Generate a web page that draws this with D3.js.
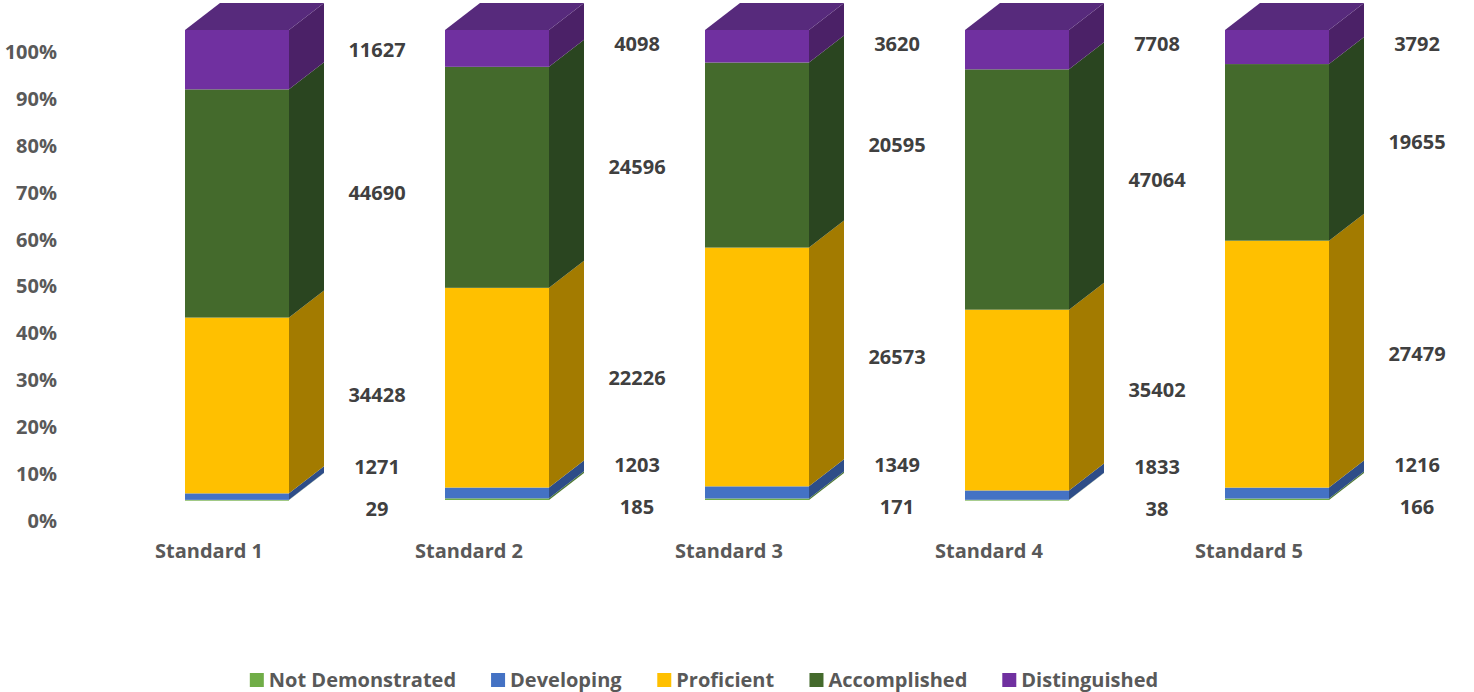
<!DOCTYPE html>
<html>
<head>
<meta charset="utf-8">
<script src="https://cdn.jsdelivr.net/npm/d3@7"></script>
<style>
  html, body { margin: 0; padding: 0; background: #ffffff; }
  svg { display: block; font-family: "Open Sans", Lato, sans-serif; font-weight: 700; }
</style>
</head>
<body>
<svg id="chart" width="1474" height="692"></svg>
<script>
// Categories and series (raw counts, shown as 100% stacked 3D columns)
const categories = ["Standard 1", "Standard 2", "Standard 3", "Standard 4", "Standard 5"];
const seriesNames = ["Not Demonstrated", "Developing", "Proficient", "Accomplished", "Distinguished"];
const notDemonstrated = [29, 185, 171, 38, 166];
const developing      = [1271, 1203, 1349, 1833, 1216];
const proficient      = [34428, 22226, 26573, 35402, 27479];
const accomplished    = [44690, 24596, 20595, 47064, 19655];
const distinguished   = [11627, 4098, 3620, 7708, 3792];
const tickValues = [0, 0.1, 0.2, 0.3, 0.4, 0.5, 0.6, 0.7, 0.8, 0.9, 1.0];

// Face colours per series: front, side, top
const frontColors = ["#70AD47", "#4472C4", "#FFC000", "#446A2C", "#7030A0"];
const sideColors  = ["#4E7A32", "#2E4D88", "#A37B00", "#2A4520", "#4B2167"];
const topColors   = ["#5E9340", "#3A5FA6", "#CC9A00", "#37592A", "#572A7C"];

const fontSize = "20px";
const svg = d3.select("#chart");

const seriesValues = [notDemonstrated, developing, proficient, accomplished, distinguished];
const rows = categories.map((c, i) => {
  const r = { category: c };
  seriesNames.forEach((s, j) => { r[s] = seriesValues[j][i]; });
  return r;
});
const stacked = d3.stack().keys(seriesNames).offset(d3.stackOffsetExpand)(rows);

// Depth projection of the 3D boxes
const depthX = 35, depthY = -27;

const x = d3.scaleBand().domain(categories).range([120, 1420]).padding(0);
const barOffset = x.step() * 0.25;
const barWidth = x.step() * 0.4;

// Front face scale and value axis scale (axis drawn against the floor line)
const y = d3.scaleLinear().domain([0, 1]).range([500, 30]);
const yAxisScale = d3.scaleLinear().domain([0, 1]).range([521, 52]);

// Value axis
const yAxis = d3.axisLeft(yAxisScale)
  .tickValues(tickValues)
  .tickFormat(d3.format(".0%"))
  .tickSize(0)
  .tickPadding(0);
const gAxis = svg.append("g").attr("transform", "translate(57,0)").call(yAxis);
gAxis.select(".domain").remove();
gAxis.selectAll("text")
  .attr("fill", "#595959")
  .style("font-size", fontSize)
  .style("font-family", "'Open Sans', Lato, sans-serif")
  .style("font-weight", 700);

// Bars
const bars = svg.append("g");
categories.forEach((cat, i) => {
  const x0 = x(cat) + barOffset;
  const x1 = x0 + barWidth;
  const g = bars.append("g");
  stacked.forEach((layer, j) => {
    const yb = y(layer[i][0]);
    const yt = y(layer[i][1]);
    // front face
    g.append("rect")
      .attr("x", x0).attr("y", yt)
      .attr("width", barWidth).attr("height", Math.max(0.8, yb - yt))
      .attr("fill", frontColors[j]);
    // side face
    g.append("path")
      .attr("d", `M${x1},${yb}L${x1},${yt}L${x1 + depthX},${yt + depthY}L${x1 + depthX},${yb + depthY}Z`)
      .attr("fill", sideColors[j]);
  });
  // top face of the column
  const yTop = y(1);
  g.append("path")
    .attr("d", `M${x0},${yTop}L${x1},${yTop}L${x1 + depthX},${yTop + depthY}L${x0 + depthX},${yTop + depthY}Z`)
    .attr("fill", topColors[4]);

  // value labels beside each segment, kept apart from one another
  const labels = stacked.map((layer, j) => ({
    text: seriesValues[j][i],
    pos: (y(layer[i][0]) + y(layer[i][1])) / 2 - 10
  }));
  const minGap = 42;
  for (let iter = 0; iter < 60; iter++) {
    for (let k = 0; k < labels.length - 1; k++) {
      const lo = labels[k], hi = labels[k + 1];
      const gap = lo.pos - hi.pos;
      if (gap < minGap) {
        const push = (minGap - gap) / 2;
        lo.pos += push; hi.pos -= push;
      }
    }
  }
  // keep the top label clear of the chart's top edge
  labels[labels.length - 1].pos = Math.max(labels[labels.length - 1].pos, 44);
  const lx = x1 + depthX + 53;
  labels.forEach(l => {
    svg.append("text")
      .attr("x", lx).attr("y", l.pos)
      .attr("dy", "0.35em")
      .attr("text-anchor", "middle")
      .attr("fill", "#404040")
      .style("font-size", fontSize)
      .text(l.text);
  });

  // category label
  svg.append("text")
    .attr("x", x0 + barWidth / 2 - 28).attr("y", 551)
    .attr("dy", "0.35em")
    .attr("text-anchor", "middle")
    .attr("fill", "#595959")
    .style("font-size", fontSize)
    .text(cat);
});

// Legend
const legend = svg.append("g");
const items = legend.selectAll("g").data(seriesNames).join("g");
items.append("rect").attr("width", 14).attr("height", 14).attr("y", -7)
  .attr("fill", (d, j) => frontColors[j]);
items.append("text").attr("x", 19).attr("dy", "0.35em")
  .attr("fill", "#595959").style("font-size", fontSize).text(d => d);
let cursor = 0;
items.each(function () {
  const w = this.getBBox().width;
  d3.select(this).attr("transform", `translate(${cursor},0)`);
  cursor += w + 35;
});
const totalW = cursor - 35;
legend.attr("transform", `translate(${704 - totalW / 2},680)`);
</script>
</body>
</html>
